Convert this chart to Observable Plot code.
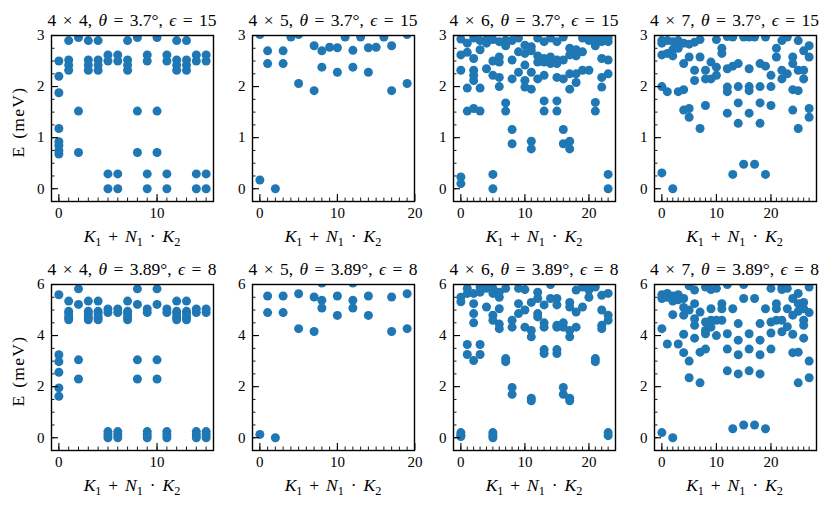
<!DOCTYPE html>
<html><head><meta charset="utf-8">
<script src="https://cdn.jsdelivr.net/npm/d3@7"></script>
<script src="https://cdn.jsdelivr.net/npm/@observablehq/plot@0.6"></script>
<style>
body{margin:0;background:#fff;}
#fig{position:relative;width:830px;height:505px;background:#fff;font-family:"Liberation Serif","DejaVu Serif",serif;color:#000;overflow:hidden;}
.lab{position:absolute;white-space:nowrap;transform:translate(-50%,-50%);line-height:1;word-spacing:2.5px;}
.ttl{word-spacing:2px;}
.lab sub{font-size:70%;vertical-align:-0.3em;line-height:0;}
.ylab{position:absolute;white-space:nowrap;transform:translate(-50%,-50%) rotate(-90deg);line-height:1;letter-spacing:1.3px;word-spacing:1px;}
.plot{position:absolute;}
</style></head><body><div id="fig"></div>
<script>
// ---- data: [k, [energies in meV]] ----
const p44_e15 = [[0,[2.5,2.2,1.88,1.18,0.92,0.85,0.75,0.68]],[1,[2.9,2.52,2.42,2.32]],[2,[2.96,1.52,0.71]],[3,[2.9,2.52,2.42,2.32]],[4,[2.9,2.52,2.42,2.32]],[5,[2.62,2.5,0.29,0]],[6,[2.62,2.5,0.29,0]],[7,[2.9,2.52,2.42,2.32]],[8,[2.96,1.52,0.71]],[9,[2.62,2.5,0.29,0]],[10,[2.96,1.52,0.71]],[11,[2.62,2.5,0.29,0]],[12,[2.9,2.52,2.42,2.32]],[13,[2.9,2.52,2.42,2.32]],[14,[2.62,2.5,0.29,0]],[15,[2.62,2.5,0.29,0]]];
const p45_e15 = [[0,[3.02,0.17]],[1,[2.7,2.45]],[2,[0]],[3,[2.7,2.45]],[4,[2.97]],[5,[3.02,2.06]],[7,[2.8,1.92]],[8,[2.7,2.38]],[9,[2.77]],[10,[2.76,2.28]],[11,[2.97]],[12,[2.71,2.38]],[13,[2.97]],[14,[2.76,2.28]],[15,[2.77]],[16,[2.97]],[17,[2.8,1.92]],[19,[3.02,2.06]]];
const p46_e15 = [[0,[2.93,2.62,2.32,0.23,0.1]],[1,[2.85,2.67,1.97,1.52]],[2,[2.95,2.55,2.32,2.22,2.12,1.57]],[3,[2.9,2.72,1.97,1.52]],[4,[2.92,2.85,2.35]],[5,[2.92,2.5,2.22,0.28,0]],[6,[2.88,2.58,2.48,2.18,2.0]],[7,[2.91,2.8,1.68,1.52]],[8,[2.9,2.52,2.15,1.16,0.88]],[9,[2.95,2.68,2.28]],[10,[2.81,2.65,2.42,2.12,1.99]],[11,[2.78,2.7,2.28,1.95,0.93,0.78]],[12,[2.95,2.6,2.48,2.15]],[13,[2.88,2.55,2.48,2.22,1.72,1.52]],[14,[2.95,2.58,2.45]],[15,[2.88,2.52,2.45,2.18,1.72,1.52]],[16,[2.97,2.52,2.15,1.16,0.88]],[17,[2.75,2.62,2.25,1.95,0.93,0.78]],[18,[2.72,2.6,2.25,2.08]],[19,[2.95,2.68,2.32]],[20,[2.95,2.9,2.32]],[21,[2.95,2.9,2.8,1.69,1.52]],[22,[2.95,2.88,2.55,2.18,1.99]],[23,[2.95,2.88,2.52,2.25,0.28,0]]];
const p47_e15 = [[0,[2.9,2.85,2.62,2.0,0.31]],[1,[2.9,2.65,1.9]],[2,[2.88,2.72,2.6,0]],[3,[2.9,2.82,2.75,1.9]],[4,[2.85,2.45,1.94,1.54]],[5,[2.83,2.58,1.57,1.4]],[6,[2.87,2.32,2.12]],[7,[2.92,2.58,1.18]],[8,[2.32,2.15,1.63]],[9,[2.48,2.15]],[10,[2.92,2.38,2.22]],[11,[2.75,2.65]],[12,[2.98,2.35,1.99,1.9,1.48]],[13,[2.97,2.4,0.28]],[14,[2.45,2.0,1.68,1.28]],[15,[2.97,0.48]],[16,[2.97,2.35,2.0,1.92,1.48]],[17,[2.97,0.48]],[18,[2.45,2.0,1.68,1.28]],[19,[2.97,2.4,0.28]],[20,[2.22,2.0,1.63]],[21,[2.75,2.58]],[22,[2.9,2.32,2.15]],[23,[2.97,2.25]],[24,[2.58,2.45,1.94,1.54]],[25,[2.9,2.32,1.92,1.18]],[26,[2.7,2.32,2.15]],[27,[2.8,2.58,1.57,1.4]]];
const p44_e8 = [[0,[5.6,3.25,2.98,2.56,1.95,1.62]],[1,[5.35,4.95,4.85,4.72,4.62]],[2,[5.83,5.22,3.05,2.3]],[3,[5.35,4.95,4.85,4.72,4.62]],[4,[5.35,4.95,4.85,4.72,4.62]],[5,[5.04,4.9,0.24,0.12,0]],[6,[5.04,4.9,0.24,0.12,0]],[7,[5.35,4.95,4.85,4.72,4.62]],[8,[5.83,5.22,3.05,2.3]],[9,[5.04,4.9,0.24,0.12,0]],[10,[5.83,5.22,3.05,2.3]],[11,[5.04,4.9,0.24,0.12,0]],[12,[5.35,4.95,4.85,4.72,4.62]],[13,[5.35,4.95,4.85,4.72,4.62]],[14,[5.04,4.9,0.24,0.12,0]],[15,[5.04,4.9,0.24,0.12,0]]];
const p45_e8 = [[0,[0.13]],[1,[5.55,4.9]],[2,[0]],[3,[5.55,4.9]],[5,[5.64,4.27]],[7,[5.51,4.16]],[8,[6.06,5.38,5.08]],[10,[5.55,4.79]],[12,[6.06,5.38,5.08]],[14,[5.55,4.79]],[17,[5.51,4.16]],[19,[5.64,4.27]]];
const p46_e8 = [[0,[5.5,5.32,0.2,0.1,0.05]],[1,[5.85,5.65,3.65,3.26]],[2,[5.65,5.25,4.86,4.5,3.02]],[3,[5.9,5.7,3.65,3.26]],[4,[5.85,5.12]],[5,[5.85,5.65,4.8,4.6,0.2,0.1,0.0]],[6,[5.7,5.5,5.05,4.45,4.27]],[7,[5.85,3.1,2.98]],[8,[4.6,4.33,1.97,1.7]],[9,[5.85,5.25,4.86]],[10,[5.8,5.0,4.33]],[11,[5.3,4.2,3.95,1.55,1.45]],[12,[5.7,5.45,4.86,4.73]],[13,[5.2,4.5,4.33,3.45,3.3]],[14,[6.0,5.45]],[15,[5.45,5.2,4.4,4.33,3.45,3.3]],[16,[4.5,4.33,1.97,1.7]],[17,[5.3,5.12,4.2,3.95,1.55,1.45]],[18,[5.78,4.92,4.33]],[19,[5.9,5.12]],[20,[5.9,5.78,5.5]],[21,[5.9,3.1,2.98]],[22,[5.58,5.0,4.4,4.27]],[23,[5.65,4.8,4.6,0.2,0.08]]];
const p47_e8 = [[0,[5.6,5.45,4.27,0.2]],[1,[5.65,5.5,3.67]],[2,[5.55,5.35,4.82,0]],[3,[5.6,5.4,3.67]],[4,[5.45,5.1,4.8,4.05,3.33]],[5,[5.95,5.0,3.0,2.35]],[6,[5.78,5.25,4.66,4.4,3.9]],[7,[4.92,3.35,2.15]],[8,[5.9,4.53,4.2,4.07,3.47]],[9,[5.8,5.05,4.6,4.33]],[10,[5.85,4.6,4.0]],[11,[5.25,5.05,4.6]],[12,[6.0,4.07,3.47,2.62]],[13,[5.05,0.35]],[14,[4.47,3.82,3.25,2.5]],[15,[6.0,5.45,0.5]],[16,[4.07,3.47,2.62]],[17,[5.45,0.5]],[18,[4.47,3.82,3.25,2.5]],[19,[5.05,0.35]],[20,[5.85,4.53,4.1,3.47]],[21,[5.25,5.05,4.6]],[22,[5.9,5.8,4.6,4.15]],[23,[5.85,5.05,4.35]],[24,[5.45,4.8,4.05,3.33]],[25,[5.65,5.25,4.95,3.35,2.15]],[26,[5.3,5.05,4.6,4.4,3.9]],[27,[5.9,4.9,3.0,2.35]]];

const sizes = ["4 × 4","4 × 5","4 × 6","4 × 7"];
const thetas = ["3.7°","3.89°"];
const epsilons = ["15","8"];
const xMajorTicks = [[0,10],[0,10,20],[0,10,20],[0,10,20]];
const yMajorTicks = [[0,1,2,3],[0,2,4,6]];
const yMinorStep = [0.25,0.5];
const kMax = [15,19,23,27];
const yDomains = [[-0.25,3],[-0.5,6]];
const panelData = [[p44_e15,p45_e15,p46_e15,p47_e15],[p44_e8,p45_e8,p46_e8,p47_e8]];

// ---- layout ----
const colLeft = [51,252,453,653.5];
const rowTop = [35,284];
const FW = 162, FH = 166;
const ML = 40, MR = 8, MT = 8, MB = 26;
const fig = document.getElementById("fig");
const blue = "#1f77b4";

function addLabel(html, cx, cy, size, cls="lab"){
  const d = document.createElement("div");
  d.className = cls;
  d.style.left = cx + "px"; d.style.top = cy + "px"; d.style.fontSize = size + "px";
  d.innerHTML = html;
  fig.appendChild(d);
}

for (let r = 0; r < 2; r++) {
  for (let c = 0; c < 4; c++) {
    const flat = panelData[r][c].flatMap(([k, es]) => es.map(e => ({k, e})));
    const m = 0.05 * kMax[c];
    const xd = [-m, kMax[c] + m];
    const yd = yDomains[r];
    const xMinor = d3.range(0, kMax[c] + 1);
    const st = yMinorStep[r];
    const yMinor = d3.range(Math.ceil(yd[0] / st), Math.floor(yd[1] / st) + 1).map(i => +(i * st).toFixed(4));
    const svg = Plot.plot({
      width: ML + FW + MR, height: MT + FH + MB,
      marginLeft: ML, marginRight: MR, marginTop: MT, marginBottom: MB,
      x: {domain: xd},
      y: {domain: yd},
      style: {fontFamily: '"Liberation Serif","DejaVu Serif",serif', fontSize: "15px", background: "transparent", color: "black", overflow: "visible"},
      marks: [
        Plot.dot(flat, {x: "k", y: "e", r: 4.5, fill: blue, clip: true}),
        Plot.tickX(xMinor, {x: d => d, stroke: "black", strokeWidth: 0.9, insetTop: FH - 3.5}),
        Plot.tickX(xMajorTicks[c], {x: d => d, stroke: "black", strokeWidth: 1.1, insetTop: FH - 7}),
        Plot.tickY(yMinor, {y: d => d, stroke: "black", strokeWidth: 0.9, insetRight: FW - 3.5}),
        Plot.tickY(yMajorTicks[r], {y: d => d, stroke: "black", strokeWidth: 1.1, insetRight: FW - 7}),
        Plot.axisX({ticks: xMajorTicks[c], tickSize: 0, tickPadding: 6, label: null, fontSize: 15, tickFormat: d => String(d)}),
        Plot.axisY({ticks: yMajorTicks[r], tickSize: 0, tickPadding: 7, label: null, fontSize: 15, tickFormat: d => String(d)}),
        Plot.frame({stroke: "black", strokeWidth: 1.4})
      ]
    });
    svg.classList.add("plot");
    svg.style.left = (colLeft[c] - ML) + "px";
    svg.style.top = (rowTop[r] - MT) + "px";
    fig.appendChild(svg);
    const cx = colLeft[c] + FW / 2;
    addLabel(`${sizes[c]}, <i>θ</i> = ${thetas[r]}, <i>ϵ</i> = ${epsilons[r]}`, cx, r === 0 ? 20.5 : 270, 17.5, "lab ttl");
    addLabel(`<i>K</i><sub>1</sub> + <i>N</i><sub>1</sub> · <i>K</i><sub>2</sub>`, cx, r === 0 ? 237 : 485.5, 17.5);
    if (c === 0) addLabel("E (meV)", 19, rowTop[r] + FH / 2 + 4, 17.5, "ylab");
  }
}
</script></body></html>
